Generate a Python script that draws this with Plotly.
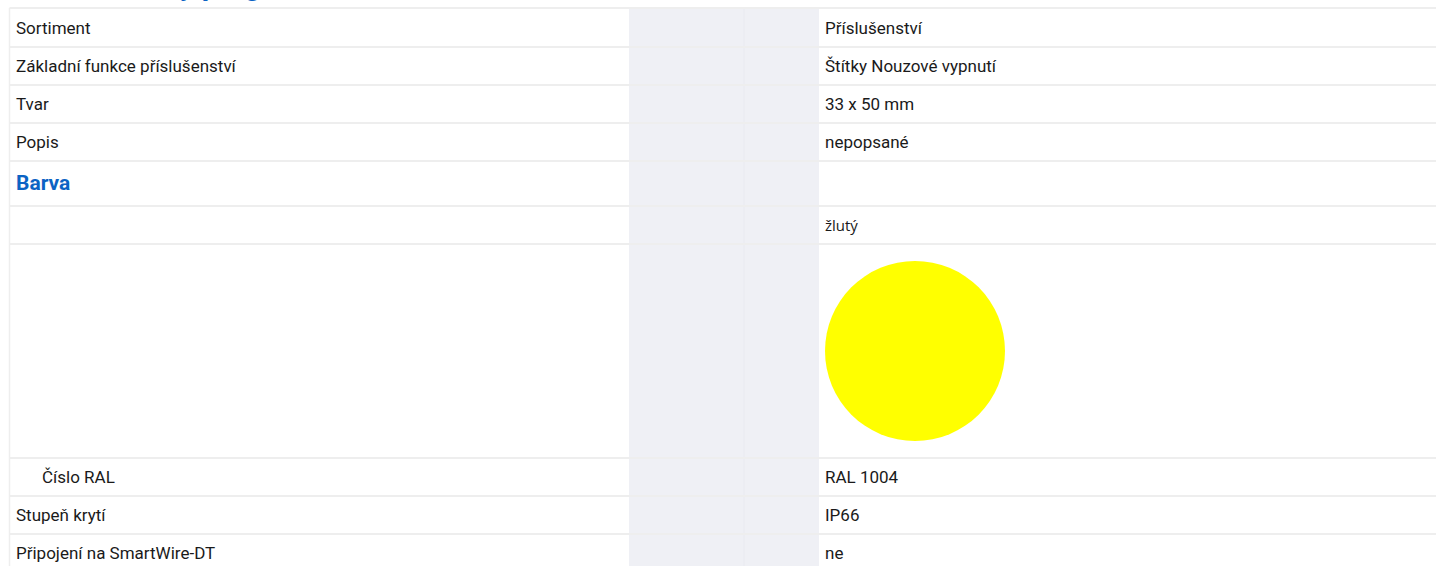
import plotly.graph_objects as go

# ---------------- data ----------------
section_title = "Dodávkový program"
row_labels = ["Sortiment", "Základní funkce příslušenství", "Tvar", "Popis", "Barva", "", "",
              "Číslo RAL", "Stupeň krytí", "Připojení na SmartWire-DT"]
row_values = ["Příslušenství", "Štítky Nouzové vypnutí", "33 x 50 mm", "nepopsané", "", "žlutý", "",
              "RAL 1004", "IP66", "ne"]
row_kinds = ["text", "text", "text", "text", "heading", "text", "swatch", "sub", "text", "text"]
swatch_color = "#ffff00"

# ---------------- layout constants ----------------
W, H = 1436, 566
TABLE_TOP = 8
ROW_H = {"text": 38, "sub": 38, "heading": 45, "swatch": 214}
FIRST_ROW_EXTRA = 1
LEFT = 9.5
LABEL_X = 14
SUB_X = 40
GRAY_X0, GRAY_X1, GRAY_MID = 629, 819, 744
VALUE_X = 823
LINE_COL = "#eeeeee"
GRAY_COL = "#eff0f5"
BLUE = "#0b63c4"
TXT = "#1a1a1a"
FONT = "Roboto, 'Liberation Sans', Arial, sans-serif"

fig = go.Figure()
shapes = []
annotations = []

# gray spacer column
shapes.append(dict(type="rect", xref="x", yref="y", x0=GRAY_X0, x1=GRAY_X1, y0=TABLE_TOP, y1=H + 10,
                   fillcolor=GRAY_COL, line=dict(width=0), layer="below"))
shapes.append(dict(type="line", xref="x", yref="y", x0=GRAY_MID, x1=GRAY_MID, y0=TABLE_TOP, y1=H + 10,
                   line=dict(color="#e9eaf0", width=1), layer="below"))

# rows
y = TABLE_TOP
bounds = [y]
for i, (lab, val, kind) in enumerate(zip(row_labels, row_values, row_kinds)):
    h = ROW_H[kind] + (FIRST_ROW_EXTRA if i == 0 else 0)
    y0, y1 = y, y + h
    yc = (y0 + y1) / 2
    if kind == "heading":
        annotations.append(dict(x=LABEL_X, y=yc - 1, xref="x", yref="y", text=f"<b>{lab}</b>",
                                showarrow=False, xanchor="left", yanchor="middle",
                                font=dict(family=FONT, size=21, color=BLUE)))
    elif lab:
        annotations.append(dict(x=SUB_X if kind == "sub" else LABEL_X, y=yc, xref="x", yref="y", text=lab,
                                showarrow=False, xanchor="left", yanchor="middle",
                                font=dict(family=FONT, size=17, color=TXT)))
    if kind == "swatch":
        r = 90
        cx = VALUE_X + 2 + r
        shapes.append(dict(type="circle", xref="x", yref="y", x0=cx - r, x1=cx + r, y0=yc - r, y1=yc + r,
                           fillcolor=swatch_color, line=dict(width=0)))
    elif val:
        fam = "'Open Sans', sans-serif" if val == "žlutý" else FONT
        annotations.append(dict(x=VALUE_X, y=yc, xref="x", yref="y", text=val,
                                showarrow=False, xanchor="left", yanchor="middle",
                                font=dict(family=fam, size=17 if val != "žlutý" else 15, color=TXT)))
    y = y1
    bounds.append(y)

for b in bounds:
    shapes.append(dict(type="line", xref="x", yref="y", x0=LEFT, x1=W + 5, y0=b, y1=b,
                       line=dict(color=LINE_COL, width=2)))
shapes.append(dict(type="line", xref="x", yref="y", x0=LEFT, x1=LEFT, y0=TABLE_TOP, y1=H + 10,
                   line=dict(color=LINE_COL, width=1.5)))

# cut-off section heading above the table (only descenders visible)
annotations.append(dict(x=50, y=4, xref="x", yref="y", text=f"<b>{section_title}</b>",
                        showarrow=False, xanchor="left", yanchor="bottom",
                        font=dict(family=FONT, size=29, color=BLUE)))

fig.update_layout(
    width=W, height=H, margin=dict(l=0, r=0, t=0, b=0),
    paper_bgcolor="white", plot_bgcolor="white",
    xaxis=dict(range=[0, W], visible=False, fixedrange=True),
    yaxis=dict(range=[H, 0], visible=False, fixedrange=True),
    shapes=shapes, annotations=annotations, showlegend=False,
)
fig.write_html("out.html", config={"displayModeBar": False},
               post_script="document.body.style.margin='0';document.body.style.overflow='hidden';")
